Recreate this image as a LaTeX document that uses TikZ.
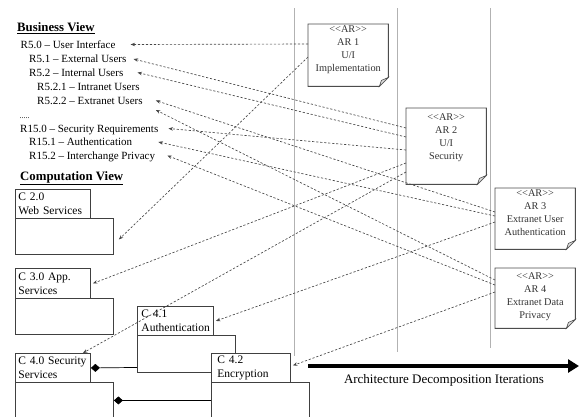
\documentclass[tikz,border=0pt]{standalone}
\usepackage{fontspec}
\setmainfont{Liberation Serif}
\usetikzlibrary{arrows.meta}
\newcommand{\arstereo}{{<}{<}AR{>}{>}}
\begin{document}
\begin{tikzpicture}[x=1pt,y=-1pt,
  req/.style={anchor=west,inner sep=0pt,font=\fontsize{11}{13}\selectfont,text height=8pt,text depth=1pt},
  head/.style={anchor=west,inner sep=0pt,font=\fontsize{12.8}{14}\selectfont\bfseries},
  arbox/.style={anchor=north west,inner sep=0pt,align=center,text=black!80,
     font=\fontsize{10.3}{13}\selectfont},
  arline/.style={draw=gray!60!black,line width=0.9pt,fill=white},
  tabbox/.style={anchor=north west,draw=gray!50!black,line width=0.9pt,fill=white,
     inner xsep=3pt,inner ysep=0pt,align=left,font=\fontsize{11.5}{14}\selectfont},
  bodybox/.style={anchor=north west,draw=gray!50!black,line width=0.9pt,fill=white,inner sep=0pt},
  trace/.style={draw=gray!55!black,line width=0.65pt,dash pattern=on 2.2pt off 1.8pt,
     -{Stealth[length=4.5pt,width=3.5pt]}},
  lane/.style={draw=gray!60,line width=0.7pt},
  comp/.style={draw=black,line width=0.7pt,-{Diamond[length=9pt,width=8pt]}}
]
\useasboundingbox (0,0) rectangle (581,416);

% swim-lane separators
\coordinate (l1t) at (294,8); \coordinate (l1b) at (294,356);
\coordinate (l2t) at (397,8); \coordinate (l2b) at (397,352);
\coordinate (l3t) at (490,8); \coordinate (l3b) at (490,348);
\draw[lane] (l1t) -- (l1b);
\draw[lane] (l2t) -- (l2b);
\draw[lane] (l3t) -- (l3b);

% Business view
\node[head] (bv) at (17,28) {\underline{Business View}};
\node[req] (r50) at (20.5,44.5) {R5.0 -- User Interface};
\node[req] (r51) at (29,59) {R5.1 -- External Users};
\node[req] (r52) at (29,72.5) {R5.2 -- Internal Users};
\node[req] (r521) at (37,87) {R5.2.1 -- Intranet Users};
\node[req] (r522) at (37,100.5) {R5.2.2 -- Extranet Users};
\node[req,font=\fontsize{8}{10}\selectfont] (dots) at (19.5,115) {.....};
\node[req] (r150) at (20,128.5) {R15.0 -- Security Requirements};
\node[req] (r151) at (29,142) {R15.1 -- Authentication};
\node[req] (r152) at (29,155.5) {R15.2 -- Interchange Privacy};

% Computation view
\node[head] (cv) at (20,178) {\underline{Computation View}};

\node[tabbox,minimum width=75pt,minimum height=29pt,text width=69pt] (c20t) at (15,189) {C 2.0\\Web Services};
\node[bodybox,minimum width=98pt,minimum height=36pt] (c20b) at (15,218) {};

\node[tabbox,minimum width=75pt,minimum height=30pt,text width=69pt] (c30t) at (15,268) {C 3.0 App.\\Services};
\node[bodybox,minimum width=98pt,minimum height=36pt] (c30b) at (15,298) {};

\node[tabbox,minimum width=74pt,minimum height=29pt,text width=68pt,inner xsep=4pt] (c41t) at (137,306) {C 4.1\\Authentication};
\node[bodybox,minimum width=98pt,minimum height=37pt] (c41b) at (137,335) {};

\node[tabbox,minimum width=75pt,minimum height=29pt,text width=69pt] (c40t) at (15,353) {C 4.0 Security\\Services};
\node[bodybox,minimum width=98pt,minimum height=36pt] (c40b) at (15,382) {};

\node[tabbox,minimum width=75pt,minimum height=29pt,text width=67pt,inner xsep=6pt] (c42t) at (211,353) {C 4.2\\Encryption};
\node[bodybox,minimum width=98pt,minimum height=36pt] (c42b) at (211,382) {};

% composition links
\draw[comp] ([yshift=-13.5pt]c41b.west) -- (c40t.east);
\draw[comp] (c42b.west) -- (c40b.east);

% Architecture requirement notes
\node[arbox,minimum width=80pt,minimum height=62pt] (ar1) at (308,24) {};
\node[arbox,minimum width=80pt,minimum height=76pt] (ar2) at (406,108) {};
\node[arbox,minimum width=80pt,minimum height=61pt] (ar3) at (495,188) {};
\node[arbox,minimum width=80pt,minimum height=60pt] (ar4) at (495,268) {};
\foreach \n in {ar1,ar2,ar3,ar4}{
  \draw[arline] (\n.north west) -- (\n.north east) -- ([yshift=9pt]\n.south east)
     -- ([xshift=-9pt]\n.south east) -- (\n.south west) -- cycle;
  \filldraw[draw=gray!60!black,fill=gray!25,line width=0.6pt]
     ([yshift=9pt]\n.south east) -- ([xshift=-9pt]\n.south east) -- ([shift={(-7pt,6pt)}]\n.south east) -- cycle;
}
\node[arbox,anchor=north] (ar1txt) at ([yshift=-1.5pt]ar1.north) {\arstereo\\AR 1\\U/I\\Implementation};
\node[arbox,anchor=north] (ar2txt) at ([yshift=-5pt]ar2.north) {\arstereo\\AR 2\\U/I\\Security};
\node[arbox,anchor=north] (ar3txt) at ([yshift=-1.5pt]ar3.north) {\arstereo\\AR 3\\Extranet User\\Authentication};
\node[arbox,anchor=north] (ar4txt) at ([yshift=-4pt]ar4.north) {\arstereo\\AR 4\\Extranet Data\\Privacy};

% traceability links
\draw[trace] ([yshift=-20pt]ar1.north west) -- ([xshift=15pt]r50.east);
\draw[trace] ([yshift=-33pt]ar1.north west) -- ([shift={(5pt,-3pt)}]c20b.east);
\draw[trace] ([yshift=-20pt]ar2.north west) -- ([xshift=7pt]r51.east);
\draw[trace] ([yshift=-29pt]ar2.north west) -- ([xshift=14pt]r52.east);
\draw[trace] ([yshift=-42pt]ar2.north west) -- ([xshift=10pt]r150.east);
\draw[trace] ([yshift=-55pt]ar2.north west) -- ([xshift=2pt]c30t.east);
\draw[trace] ([yshift=-64pt]ar2.north west) -- ([xshift=-8pt]c40t.north east);
\draw[trace] ([yshift=-24pt]ar3.north west) -- ([xshift=13pt]r522.east);
\draw[trace] ([yshift=-28pt]ar3.north west) -- ([xshift=26pt]r151.east);
\draw[trace] ([yshift=-34pt]ar3.north west) -- ([xshift=2pt]c41t.east);
\draw[trace] ([yshift=-12pt]ar4.north west) -- ([shift={(13pt,-9.5pt)}]r522.east);
\draw[trace] ([yshift=-17pt]ar4.north west) -- ([xshift=12pt]r152.east);
\draw[trace] ([yshift=-24pt]ar4.north west) -- ([xshift=2pt,yshift=2.5pt]c42t.east);

% iteration arrow
\coordinate (itA) at (308,366);
\coordinate (itB) at (579,366);
\draw[line width=4pt,-{Triangle[length=11pt,width=13pt]}] (itA) -- (itB);
\node[font=\fontsize{13}{15}\selectfont] (itlbl) at (444,380) {Architecture Decomposition Iterations};
\end{tikzpicture}
\end{document}
